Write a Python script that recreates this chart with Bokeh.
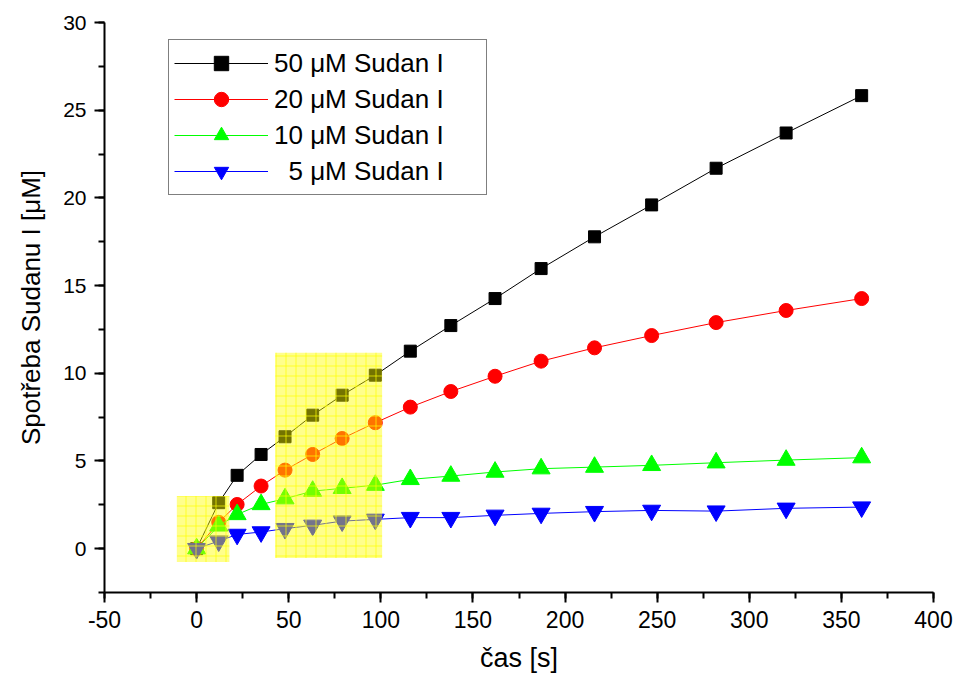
from bokeh.plotting import figure
from bokeh.models import Range1d, SingleIntervalTicker, Legend, LegendItem, PrintfTickFormatter
from bokeh.embed import file_html
from bokeh.resources import INLINE

# ---- data ----
time_s = [0, 12, 22, 35, 48, 63, 79, 97, 116, 138, 162, 187, 216, 247, 282, 320, 361]
c50 = [0, 2.62, 4.18, 5.37, 6.38, 7.61, 8.75, 9.89, 11.26, 12.72, 14.26, 15.97, 17.78, 19.60, 21.69, 23.70, 25.83]
c20 = [0, 1.50, 2.52, 3.57, 4.48, 5.37, 6.28, 7.18, 8.07, 8.96, 9.83, 10.69, 11.45, 12.15, 12.89, 13.58, 14.26]
c10 = [0, 1.30, 1.95, 2.52, 2.85, 3.28, 3.44, 3.62, 3.95, 4.14, 4.37, 4.56, 4.65, 4.75, 4.90, 5.05, 5.19]
c5 = [0, 0.43, 0.81, 0.95, 1.14, 1.33, 1.57, 1.67, 1.77, 1.77, 1.90, 2.01, 2.11, 2.18, 2.14, 2.30, 2.37]

series_labels = ["50 \u03bcM Sudan I", "20 \u03bcM Sudan I", "10 \u03bcM Sudan I", "\u00a0\u00a05 \u03bcM Sudan I"]

# highlighted regions (data units)
hl_left = [-10.7, 42.7]
hl_right = [17.8, 100.7]
hl_bottom = [-0.76, -0.54]
hl_top = [3.0, 11.17]

FONT = "Liberation Sans"

p = figure(width=954, height=675, output_backend="svg", toolbar_location=None,
           x_range=Range1d(-50, 400), y_range=Range1d(-2.5, 30),
           min_border_left=104, min_border_right=21, min_border_top=22, min_border_bottom=82)
p.background_fill_color = "white"
p.border_fill_color = "white"
p.outline_line_color = None
p.grid.visible = False

p.xaxis.ticker = SingleIntervalTicker(interval=50, num_minor_ticks=2)
p.yaxis.ticker = SingleIntervalTicker(interval=5, num_minor_ticks=2)
for ax in (p.xaxis[0], p.yaxis[0]):
    ax.formatter = PrintfTickFormatter(format="%d")
    ax.axis_line_width = 2
    ax.major_tick_line_width = 2
    ax.minor_tick_line_width = 2
    ax.major_tick_out = 10
    ax.major_tick_in = 0
    ax.minor_tick_out = 6
    ax.minor_tick_in = 0
    ax.major_label_text_font = FONT
    ax.major_label_text_color = "black"
    ax.axis_label_text_font = FONT
    ax.axis_label_text_font_style = "normal"
    ax.axis_label_text_color = "black"
p.xaxis.major_label_text_font_size = "23px"
p.yaxis.major_label_text_font_size = "21px"
p.xaxis.major_label_standoff = 8
p.yaxis.major_label_standoff = 8
p.xaxis.axis_label = "\u010das [s]"
p.xaxis.axis_label_text_font_size = "27px"
p.xaxis.axis_label_standoff = 12
p.yaxis.axis_label = "Spot\u0159eba Sudanu I [\u03bcM]"
p.yaxis.axis_label_text_font_size = "26px"
p.yaxis.axis_label_standoff = 14

colors = ["black", "#ff0000", "#00ff00", "#0000ff"]
markers = ["square", "circle", "triangle", "inverted_triangle"]
sizes = [12, 14, 18, 18]
series = [c50, c20, c10, c5]

items = []
for ys, col, mk, sz, lab in zip(series, colors, markers, sizes, series_labels):
    ln = p.line(time_s, ys, line_color=col, line_width=1)
    sc = p.scatter(time_s, ys, marker=mk, size=sz, fill_color=col, line_color=col)
    items.append(LegendItem(label=lab, renderers=[ln, sc]))

# yellow highlight boxes drawn over the data
p.quad(left=hl_left, right=hl_right, bottom=hl_bottom, top=hl_top,
       fill_color="#ffff00", fill_alpha=0.45, line_color=None,
       hatch_pattern="+", hatch_color="#ffff00", hatch_alpha=0.7,
       hatch_scale=10, hatch_weight=1)

legend = Legend(items=items, location=(64, 397), orientation="vertical")
legend.border_line_color = "black"
legend.border_line_width = 1
legend.background_fill_color = "white"
legend.background_fill_alpha = 1
legend.label_text_font = FONT
legend.label_text_font_size = "26px"
legend.label_text_color = "black"
legend.glyph_width = 94
legend.glyph_height = 36
legend.label_height = 36
legend.label_width = 207
legend.label_standoff = 6
legend.spacing = -5
legend.padding = 5
legend.margin = 0
p.add_layout(legend, "center")

open("out.html", "w").write(file_html(p, INLINE))
